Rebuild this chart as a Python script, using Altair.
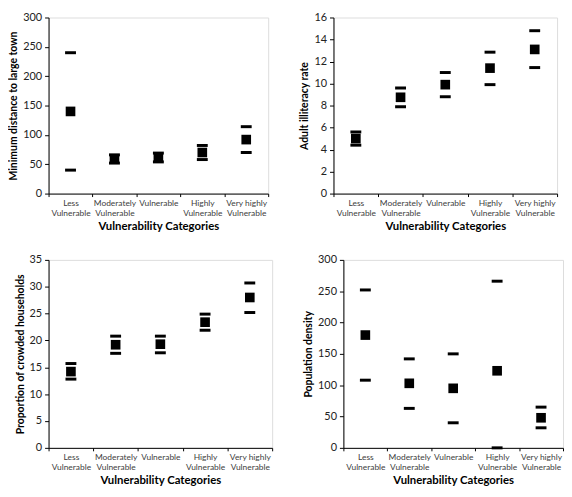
import altair as alt
import pandas as pd

categories = ["Less Vulnerable", "Moderately Vulnerable", "Vulnerable",
              "Highly Vulnerable", "Very highly Vulnerable"]

# Panel 1: Minimum distance to large town
dist_mean = [140, 59, 62, 70, 92]
dist_upper = [240, 66, 69, 82, 114]
dist_lower = [40, 52, 54, 58, 70]

# Panel 2: Adult illiteracy rate
illit_mean = [5.0, 8.75, 9.9, 11.4, 13.1]
illit_upper = [5.6, 9.6, 11.0, 12.85, 14.8]
illit_lower = [4.4, 7.9, 8.8, 9.9, 11.45]

# Panel 3: Proportion of crowded households
crowd_mean = [14.2, 19.2, 19.3, 23.4, 28.0]
crowd_upper = [15.7, 20.8, 20.8, 24.9, 30.7]
crowd_lower = [12.8, 17.6, 17.7, 21.9, 25.2]

# Panel 4: Population density
dens_mean = [180, 103, 95, 123, 48]
dens_upper = [252, 142, 150, 266, 65]
dens_lower = [108, 63, 40, 0, 32]

ticks_dist = [0, 50, 100, 150, 200, 250, 300]
ticks_illit = [0, 2, 4, 6, 8, 10, 12, 14, 16]
ticks_crowd = [0, 5, 10, 15, 20, 25, 30, 35]
ticks_dens = [0, 50, 100, 150, 200, 250, 300]

FONT = "Lato"


def panel(mean, lower, upper, ytitle, yticks, w, h):
    df = pd.DataFrame({"cat": categories, "mean": mean,
                       "lower": lower, "upper": upper})
    xenc = alt.X(
        "cat:N", sort=categories,
        scale=alt.Scale(paddingInner=0, paddingOuter=0),
        axis=alt.Axis(
            title="Vulnerability Categories", labelAngle=0,
            tickBand="extent", tickSize=3, tickColor="black",
            domainColor="black", labelFontSize=8.5, labelColor="#404040",
            labelExpr="split(replace(datum.label, ' Vulnerable', '|Vulnerable'), '|')",
            labelPadding=2, titlePadding=4, titleFontSize=11.5,
            titleFontWeight="bold", titleColor="black", labelFont=FONT,
            titleFont=FONT, labelLineHeight=10,
        ),
    )
    yscale = alt.Scale(domain=[yticks[0], yticks[-1]], nice=False, zero=True)
    yaxis = alt.Axis(
        title=ytitle, values=yticks, grid=False, tickSize=4,
        tickColor="black", domainColor="black", labelFontSize=11,
        labelColor="#222222", titleFontSize=10.5, titleFontWeight="bold",
        titleColor="black", labelFont=FONT, titleFont=FONT, titlePadding=4,
        labelPadding=3,
    )
    base = alt.Chart(df).encode(x=xenc)
    lo = base.mark_tick(color="black", size=11, thickness=3, opacity=1).encode(
        y=alt.Y("lower:Q", scale=yscale, axis=yaxis))
    up = base.mark_tick(color="black", size=11, thickness=3, opacity=1).encode(
        y=alt.Y("upper:Q", scale=yscale, axis=yaxis))
    sq = base.mark_square(color="black", size=95, opacity=1).encode(
        y=alt.Y("mean:Q", scale=yscale, axis=yaxis))
    return alt.layer(lo, up, sq).properties(width=w, height=h)


p1 = panel(dist_mean, dist_lower, dist_upper,
           "Minimum distance to large town", ticks_dist, 222, 178)
p2 = panel(illit_mean, illit_lower, illit_upper,
           "Adult illiteracy rate", ticks_illit, 226, 178)
p3 = panel(crowd_mean, crowd_lower, crowd_upper,
           "Proportion of crowded households", ticks_crowd, 226, 190)
p4 = panel(dens_mean, dens_lower, dens_upper,
           "Population density", ticks_dens, 222, 190)

chart = alt.vconcat(
    alt.hconcat(p1, p2, spacing=30),
    alt.hconcat(p3, p4, spacing=30),
    spacing=20,
).properties(padding=0).configure_view(stroke=None).configure(background="white")

chart.save("out.html", embed_options={"renderer": "svg", "actions": False})
